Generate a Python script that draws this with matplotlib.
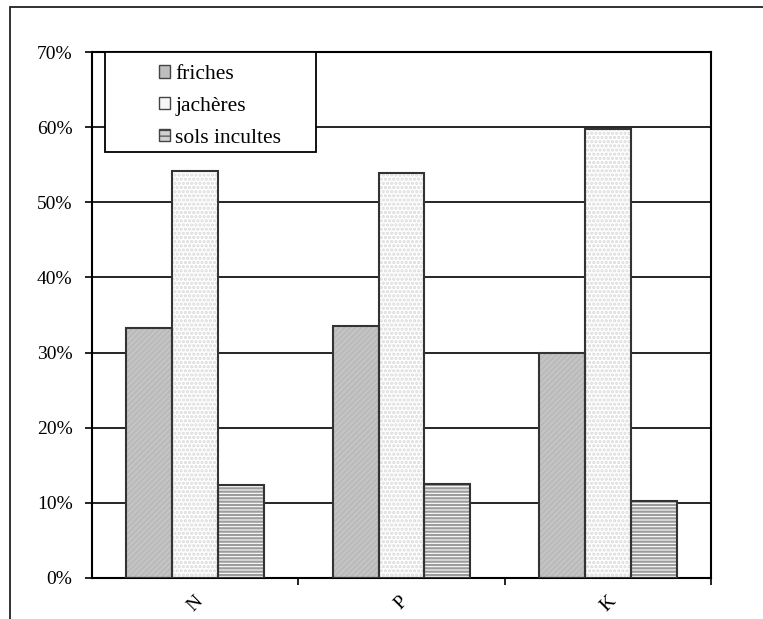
import matplotlib
matplotlib.use("Agg")
import matplotlib.pyplot as plt
from matplotlib.patches import Rectangle, Patch
from matplotlib.ticker import FuncFormatter
import numpy as np

plt.rcParams['font.family'] = ['Liberation Serif', 'DejaVu Serif']
plt.rcParams['hatch.linewidth'] = 1.6

categories = ["N", "P", "K"]
series_names = ["friches", "jachères", "sols incultes"]
friches = [33.3, 33.5, 30.0]
jacheres = [54.2, 53.9, 59.8]
sols_incultes = [12.4, 12.5, 10.2]
yticks = [0, 10, 20, 30, 40, 50, 60, 70]

values = [friches, jacheres, sols_incultes]
styles = [
    dict(face="#c6c6c6", hatch="//////", hcol="#bababa", lface="#bdbdbd", lhatch=None),
    dict(face="#ffffff", hatch="....", hcol="#dadada", lface="#f6f6f6", lhatch=None),
    dict(face="#ffffff", hatch="-----", hcol="#9c9c9c", lface="#d0d0d0", lhatch="---"),
]

fig = plt.figure(figsize=(7.63, 6.19), dpi=100)
W, H = 763, 619

# outer chart frame (cut off at the right and bottom)
fig.patches.append(Rectangle((10 / W, -0.1), 1.2, 1 - 7 / H + 0.1,
                             transform=fig.transFigure, fill=False,
                             edgecolor="#222222", linewidth=1.3, zorder=0))

ax = fig.add_axes([92 / W, 1 - 578 / H, (711 - 92) / W, (578 - 52) / H])

x = np.arange(len(categories))
width = 1 / 4.5
offsets = [-width, 0, width]
for vals, off, st in zip(values, offsets, styles):
    ax.bar(x + off, vals, width, color=st["face"], edgecolor=st["hcol"],
           hatch=st["hatch"], linewidth=0, zorder=2)
    ax.bar(x + off, vals, width, fill=False, edgecolor="#333333",
           linewidth=1.5, zorder=3)

ax.set_xlim(-0.5, len(categories) - 0.5)
ax.set_ylim(0, 70)
ax.set_yticks(yticks)
ax.yaxis.set_major_formatter(FuncFormatter(lambda v, p: f"{int(v)}%"))
ax.yaxis.grid(True, color="black", linewidth=1.2, zorder=1)
ax.set_axisbelow(True)

ax.set_xticks(x)
ax.set_xticklabels(categories, rotation=45, ha="center", va="top")
ax.set_xticks(np.arange(len(categories)) + 0.5, minor=True)
ax.tick_params(axis="x", which="major", length=0, pad=11, labelsize=14)
ax.tick_params(axis="x", which="minor", length=5, width=1.2, direction="out")
ax.tick_params(axis="y", length=5, width=1.2, direction="out", pad=9,
               labelsize=14)
for s in ax.spines.values():
    s.set_linewidth(1.5)
    s.set_color("black")

# legend box
fig.patches.append(Rectangle((105 / W, 1 - 152 / H), 211 / W, 100 / H,
                             transform=fig.transFigure, facecolor="white",
                             edgecolor="black", linewidth=1.3, zorder=5))
handles = [Patch(facecolor=st["lface"], edgecolor="#444444", hatch=st["lhatch"],
                 linewidth=1.0) for st in styles]
plt.rcParams['hatch.linewidth'] = 0.8
leg = fig.legend(handles, series_names, loc="upper left",
                 bbox_to_anchor=(144 / W, 1 - 50 / H), frameon=False,
                 fontsize=15.5, handlelength=0.5, handleheight=0.5,
                 handletextpad=0.25, labelspacing=0.6, borderpad=0.2)
leg.set_zorder(6)

fig.savefig("out.png", dpi=100)
